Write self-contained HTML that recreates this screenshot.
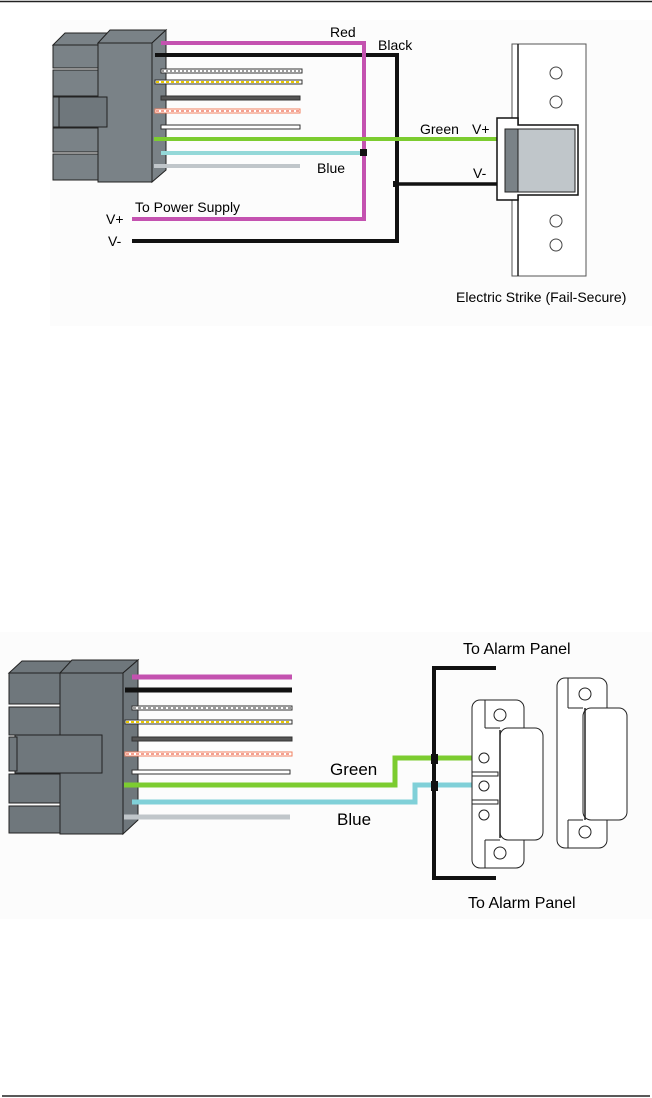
<!DOCTYPE html>
<html><head><meta charset="utf-8"><style>
html,body{margin:0;padding:0;background:#fff;}
svg{display:block;}
text{font-family:"Liberation Sans",sans-serif;}
</style></head><body>
<svg width="652" height="1098" viewBox="0 0 652 1098" xmlns="http://www.w3.org/2000/svg">
<line x1="0" y1="1.5" x2="652" y2="1.5" stroke="#222" stroke-width="1.5"/>
<line x1="2" y1="1096" x2="650" y2="1096" stroke="#222" stroke-width="1.5"/>

<!-- TOP DIAGRAM -->
<rect x="50" y="20" width="602" height="306" fill="#fcfcfc"/>
<g stroke="#222" stroke-width="1" fill="#7a8287">
  <polygon points="53,45 65,33 110,33 98,45"/>
  <rect x="53" y="45" width="45" height="23"/>
  <rect x="53" y="70" width="45" height="26"/>
  <rect x="53" y="128" width="45" height="24"/>
  <rect x="53" y="154" width="45" height="26"/>
  <polygon points="98,43 110,30 166,30 152,43"/>
  <polygon points="152,43 166,30 166,170 152,182"/>
  <rect x="98" y="43" width="54" height="139"/>
  <rect x="57" y="97" width="50" height="30" fill="#6f777c"/>
  <rect x="53" y="97" width="6" height="30"/>
</g>
<g stroke-width="4" fill="none">
  <line x1="161" y1="43" x2="366" y2="43" stroke="#c452b0"/>
  <polyline points="155,55 397,55 397,241" stroke="#111"/>
  <line x1="364" y1="43" x2="364" y2="219" stroke="#c452b0"/>
  <polyline points="132,219 366,219" stroke="#c452b0"/>
  <line x1="132" y1="241" x2="399" y2="241" stroke="#111"/>
</g>
<g>
  <rect x="161" y="69" width="141" height="4" fill="#fff" stroke="#333" stroke-width="1"/>
  <line x1="162" y1="71" x2="301" y2="71" stroke="#999" stroke-width="2" stroke-dasharray="2,2"/>
  <rect x="155" y="80" width="147" height="4" fill="#fff" stroke="#333" stroke-width="1"/>
  <line x1="156" y1="82" x2="301" y2="82" stroke="#e8c800" stroke-width="2" stroke-dasharray="3,2"/>
  <rect x="161" y="96" width="139" height="4" fill="#555" stroke="#333" stroke-width="1"/>
  <rect x="155" y="109" width="145" height="4" fill="#fff" stroke="#f08060" stroke-width="1"/>
  <line x1="156" y1="111" x2="299" y2="111" stroke="#f4a090" stroke-width="2" stroke-dasharray="3,2"/>
  <rect x="161" y="125" width="139" height="4" fill="#fff" stroke="#333" stroke-width="1"/>
</g>
<line x1="154" y1="139" x2="500" y2="139" stroke="#7ccc30" stroke-width="4"/>
<line x1="161" y1="153" x2="364" y2="153" stroke="#94d8d8" stroke-width="4"/>
<line x1="154" y1="166" x2="300" y2="166" stroke="#c0c6ca" stroke-width="4"/>
<line x1="397" y1="184" x2="498" y2="184" stroke="#111" stroke-width="3.5"/>
<rect x="360" y="149" width="7" height="7" fill="#111"/>
<rect x="393" y="181" width="6" height="6" fill="#111"/>
<text x="330" y="37" font-size="14">Red</text>
<text x="378" y="50" font-size="14">Black</text>
<text x="317" y="173" font-size="14">Blue</text>
<text x="135" y="212" font-size="14">To Power Supply</text>
<text x="106" y="224" font-size="14">V+</text>
<text x="108" y="246" font-size="14">V-</text>
<text x="420" y="134" font-size="14">Green</text>
<text x="472" y="134" font-size="14">V+</text>
<text x="473" y="178" font-size="14">V-</text>
<rect x="512" y="44" width="74" height="232" fill="#fff" stroke="#555" stroke-width="1"/>
<line x1="518" y1="44" x2="518" y2="276" stroke="#222" stroke-width="1.5"/>
<g fill="#fff" stroke="#444" stroke-width="1">
  <circle cx="556" cy="73" r="6"/><circle cx="556" cy="102" r="6"/>
  <circle cx="556" cy="221" r="6"/><circle cx="556" cy="245" r="6"/>
</g>
<polygon points="497,118 518,118 518,125 578,125 578,195 518,195 518,200 497,200" fill="#fff" stroke="#111" stroke-width="1.5"/>
<rect x="505" y="129" width="70" height="63" fill="#c0c6ca" stroke="#222" stroke-width="1"/>
<rect x="505" y="129" width="13" height="63" fill="#7a8287" stroke="#222" stroke-width="1"/>
<text x="456" y="302" font-size="14">Electric Strike (Fail-Secure)</text>

<!-- BOTTOM DIAGRAM -->
<rect x="0" y="632" width="652" height="287" fill="#fcfcfc"/>
<g stroke="#222" stroke-width="1" fill="#6f777c">
  <polygon points="9,673 22,661 72,661 60,673"/>
  <rect x="9" y="673" width="51" height="31"/>
  <rect x="9" y="707" width="51" height="28"/>
  <rect x="9" y="774" width="51" height="29"/>
  <rect x="9" y="806" width="51" height="27"/>
  <polygon points="60,673 72,660 138,660 123,673"/>
  <polygon points="123,673 138,660 138,820 123,834"/>
  <rect x="60" y="673" width="63" height="161"/>
  <rect x="15" y="735" width="87" height="38"/>
  <rect x="9" y="737" width="8" height="34"/>
</g>
<line x1="132" y1="677" x2="292" y2="677" stroke="#c452b0" stroke-width="5"/>
<line x1="125" y1="690" x2="292" y2="690" stroke="#111" stroke-width="5"/>
<rect x="132" y="706" width="160" height="4" fill="#fff" stroke="#333"/>
<line x1="133" y1="708" x2="291" y2="708" stroke="#999" stroke-width="2" stroke-dasharray="3,2"/>
<rect x="125" y="720" width="167" height="4" fill="#fff" stroke="#333"/>
<line x1="126" y1="722" x2="291" y2="722" stroke="#e8c800" stroke-width="2" stroke-dasharray="3,2"/>
<rect x="132" y="737" width="160" height="4" fill="#555" stroke="#333"/>
<rect x="125" y="752" width="167" height="4" fill="#fff" stroke="#f08060"/>
<line x1="126" y1="754" x2="291" y2="754" stroke="#f4a090" stroke-width="2" stroke-dasharray="3,2"/>
<rect x="132" y="770" width="158" height="4" fill="#fff" stroke="#333"/>
<polyline points="124,785 395,785 395,758 474,758" fill="none" stroke="#7ccc30" stroke-width="5"/>
<polyline points="132,802 415,802 415,785 474,785" fill="none" stroke="#80d0d8" stroke-width="5"/>
<line x1="124" y1="817" x2="290" y2="817" stroke="#c0c6ca" stroke-width="5"/>
<polyline points="496,668 434,668 434,878 496,878" fill="none" stroke="#111" stroke-width="4"/>
<rect x="431" y="754" width="7" height="10" fill="#111"/>
<rect x="431" y="781" width="7" height="10" fill="#111"/>
<text x="330" y="775" font-size="17">Green</text>
<text x="337" y="825" font-size="17">Blue</text>
<text x="463" y="654" font-size="16">To Alarm Panel</text>
<text x="468" y="908" font-size="16">To Alarm Panel</text>
<g fill="#fff" stroke="#222" stroke-width="1">
  <rect x="472" y="700" width="52" height="168" rx="8"/>
  <rect x="500" y="728" width="43" height="112" rx="8"/>
  <line x1="485" y1="700" x2="485" y2="728"/>
  <line x1="485" y1="728" x2="500" y2="728"/>
  <line x1="485" y1="840" x2="485" y2="868"/>
  <line x1="485" y1="840" x2="500" y2="840"/>
  <circle cx="500" cy="715" r="6"/><circle cx="500" cy="853" r="6"/>
  <circle cx="484" cy="758" r="5"/><circle cx="484" cy="786" r="5"/><circle cx="484" cy="815" r="5"/>
  <rect x="472" y="772" width="26" height="4"/>
  <rect x="472" y="800" width="26" height="4"/>
</g>
<line x1="500" y1="730" x2="500" y2="838" stroke="#222" stroke-width="1.5"/>
<g fill="#fff" stroke="#222" stroke-width="1">
  <rect x="557" y="678" width="50" height="170" rx="8"/>
  <rect x="583" y="708" width="44" height="112" rx="8"/>
  <line x1="568" y1="678" x2="568" y2="708"/><line x1="568" y1="708" x2="583" y2="708"/>
  <line x1="568" y1="820" x2="568" y2="848"/><line x1="568" y1="820" x2="583" y2="820"/>
  <circle cx="585" cy="694" r="6"/><circle cx="585" cy="832" r="6"/>
</g>
<line x1="585" y1="708" x2="585" y2="820" stroke="#222" stroke-width="1.5"/>
</svg>
</body></html>
